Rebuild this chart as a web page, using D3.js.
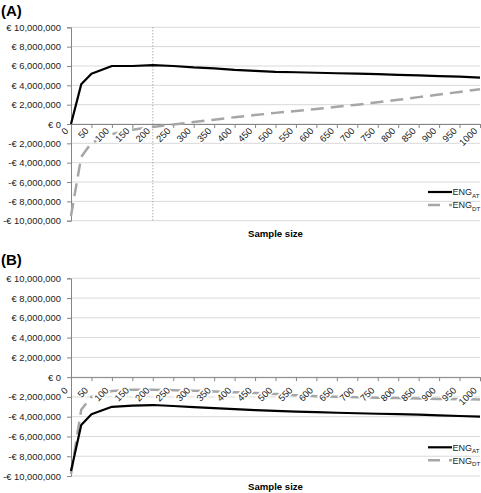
<!DOCTYPE html>
<html><head><meta charset="utf-8">
<script src="https://cdn.jsdelivr.net/npm/d3@7"></script>
<style>
body{margin:0;background:#fff;}
svg{display:block;font-family:"Liberation Sans",Arial,sans-serif;}
</style></head><body>
<script>
const sampleSizes = [0,25,50,100,150,200,250,300,350,400,450,500,550,600,650,700,750,800,850,900,950,1000];
const engAT_A = [0,4.1,5.2,6.0,6.0,6.08,6.0,5.85,5.75,5.6,5.5,5.4,5.35,5.3,5.25,5.2,5.15,5.07,5.02,4.96,4.9,4.8].map(v=>v*1e6);
const engDT_A = [-9.5,-3.4,-1.95,-1.05,-0.6,-0.3,-0.05,0.2,0.45,0.7,0.92,1.15,1.35,1.55,1.78,2.0,2.25,2.5,2.78,3.05,3.32,3.6].map(v=>v*1e6);
const engAT_B = [-9.5,-4.85,-3.75,-3.0,-2.88,-2.82,-2.92,-3.04,-3.14,-3.24,-3.33,-3.42,-3.48,-3.54,-3.6,-3.65,-3.7,-3.74,-3.8,-3.86,-3.93,-4.0].map(v=>v*1e6);
const engDT_B = [-9.8,-3.3,-2.0,-1.4,-1.28,-1.28,-1.32,-1.38,-1.45,-1.52,-1.6,-1.7,-1.82,-1.92,-1.98,-2.03,-2.08,-2.12,-2.16,-2.2,-2.23,-2.26].map(v=>v*1e6);
const yTicks = [-10e6,-8e6,-6e6,-4e6,-2e6,0,2e6,4e6,6e6,8e6,10e6];
const xTicks = d3.range(0,1001,50);
const panelLabels = ["(A)","(B)"];
const seriesNames = ["AT","DT"];
const axisTitle = "Sample size";

const W=481,H=493;
const svg=d3.select("body").append("svg").attr("width",W).attr("height",H);

const fmt = d3.format(",");
const yFmt = d => (d<0?"-":"")+"€ "+fmt(Math.abs(d));

const x = d3.scaleLinear().domain([0,1000]).range([71,480]);

function panel(cfg){
  const g = svg.append("g");
  const y = d3.scaleLinear().domain([-10e6,10e6]).range([cfg.bottom,cfg.top]);
  g.append("text").attr("x",1).attr("y",cfg.titleY).attr("font-size",15).attr("font-weight","bold").attr("fill","#000").text(cfg.label);
  g.append("g").selectAll("line").data(yTicks).join("line")
    .attr("x1",71).attr("x2",480).attr("y1",d=>y(d)).attr("y2",d=>y(d))
    .attr("stroke","#d9d9d9").attr("stroke-width",1);
  const ya = g.append("g").attr("transform","translate(71,0)")
    .call(d3.axisLeft(y).tickValues(yTicks).tickFormat(yFmt).tickSize(4).tickPadding(6));
  ya.select(".domain").attr("stroke","#868686");
  ya.selectAll(".tick line").attr("stroke","#868686");
  ya.selectAll("text").attr("font-size",9.4).attr("fill","#222").attr("font-family","Liberation Sans, Arial, sans-serif");
  const xa = g.append("g").attr("transform",`translate(0,${y(0)})`)
    .call(d3.axisBottom(x).tickValues(xTicks).tickSize(4).tickFormat(""));
  xa.select(".domain").attr("stroke","#868686");
  xa.selectAll(".tick line").attr("stroke","#868686");
  if(cfg.marker!=null){
    g.append("line").attr("x1",x(cfg.marker)).attr("x2",x(cfg.marker)).attr("y1",y(10e6)).attr("y2",y(-10e6))
      .attr("stroke","#8c8c8c").attr("stroke-width",1).attr("stroke-dasharray","1,2");
  }
  const line = d3.line().x((d,i)=>x(sampleSizes[i])).y(d=>y(d));
  g.append("path").datum(cfg.dt).attr("d",line).attr("fill","none")
    .attr("stroke","#a6a6a6").attr("stroke-width",2.5).attr("stroke-dasharray","13,7");
  g.append("path").datum(cfg.at).attr("d",line).attr("fill","none")
    .attr("stroke","#000").attr("stroke-width",2.2).attr("stroke-linejoin","round");
  // x tick labels rotated, with opaque background like the original
  const lab = g.append("g").selectAll("g").data(xTicks).join("g")
    .attr("transform",d=>`translate(${x(d)+cfg.lx},${y(0)+cfg.ly}) rotate(-45)`);
  lab.append("text").attr("text-anchor","end").attr("dy","0.35em").attr("font-size",9.4).attr("fill","#222").text(d=>d);
  lab.each(function(){
    const t=d3.select(this).select("text");
    const bb=t.node().getBBox();
    d3.select(this).insert("rect","text").attr("x",bb.x-0.5).attr("y",bb.y+0.5).attr("width",bb.width+1).attr("height",bb.height-1).attr("fill","#fff");
  });
  g.append("text").attr("x",275.5).attr("y",cfg.xtY).attr("text-anchor","middle")
    .attr("font-size",9.6).attr("font-weight","bold").attr("fill","#000").text(axisTitle);
  const leg = [{s:seriesNames[0],c:"#000",w:2.2,da:null,yy:cfg.legY},{s:seriesNames[1],c:"#a6a6a6",w:2.5,da:"12,9",yy:cfg.legY+13}];
  leg.forEach(l=>{
    g.append("line").attr("x1",428).attr("x2",452).attr("y1",l.yy).attr("y2",l.yy)
      .attr("stroke",l.c).attr("stroke-width",l.w).attr("stroke-dasharray",l.da);
    const t=g.append("text").attr("x",452.5).attr("y",l.yy+3.3).attr("font-size",9).attr("fill","#222");
    t.append("tspan").text("ENG");
    t.append("tspan").attr("font-size",6.2).attr("dy",2.3).text(l.s);
  });
}

panel({label:panelLabels[0],titleY:16,top:27.3,bottom:220.7,marker:200,at:engAT_A,dt:engDT_A,lx:-4.5,ly:5.3,xtY:237,legY:192});
panel({label:panelLabels[1],titleY:265,top:278.3,bottom:476,marker:null,at:engAT_B,dt:engDT_B,lx:-5,ly:11.5,xtY:490,legY:447.3});
</script>
</body></html>
